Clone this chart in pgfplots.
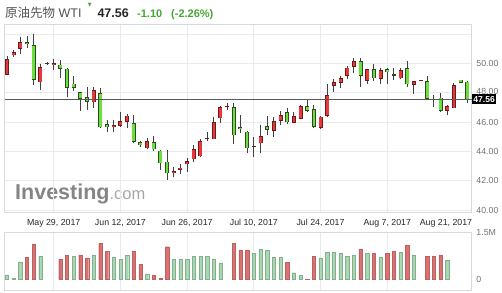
\documentclass[border=0pt]{standalone}
\usepackage{fontspec}
\setmainfont{Liberation Sans}
\newfontfamily\cjk{Noto Sans CJK JP}
\newfontfamily\dejavu{DejaVu Sans}
\usepackage{pgfplots}
\usepackage{pgfplotstable}
\pgfplotsset{compat=1.18}
\definecolor{candR}{HTML}{E8393A}
\definecolor{candRo}{HTML}{6E1A1A}
\definecolor{candG}{HTML}{6BE03C}
\definecolor{candGo}{HTML}{2E4A20}
\definecolor{volR}{HTML}{DB7272}
\definecolor{volG}{HTML}{A6D8B2}
\definecolor{gridc}{HTML}{E7EBF0}
\definecolor{bordc}{HTML}{D5DAE0}
\definecolor{upg}{HTML}{46A634}

% red candles: index open high low close
\pgfplotstableread{
i o h l c
1 49.24 50.49 49.20 50.31
2 50.56 50.90 50.44 50.78
3 51.01 51.79 50.67 51.47
6 48.72 49.97 48.21 49.74
8 49.92 50.31 49.58 50.03
14 47.35 48.42 46.98 48.19
17 45.69 46.12 45.30 45.80
18 45.75 46.67 45.69 46.05
19 46.03 46.55 45.58 46.44
22 44.21 44.89 44.16 44.69
26 42.51 42.96 42.23 42.66
27 42.75 43.14 42.46 42.89
28 43.12 43.53 42.61 43.32
29 43.46 44.44 43.30 44.16
30 43.67 44.83 43.62 44.71
31 44.83 45.30 44.71 44.91
32 44.83 46.37 44.83 45.99
33 46.26 47.10 45.96 47.01
34 47.01 47.32 46.83 47.10
38 44.32 45.00 43.64 44.37
39 44.55 45.80 43.87 45.05
41 45.39 46.37 45.00 46.08
42 46.08 46.76 45.80 46.48
44 45.96 46.71 45.92 46.42
45 46.21 47.17 46.21 47.10
48 45.62 46.40 45.55 46.37
49 46.42 48.60 46.37 47.85
50 48.48 48.92 48.08 48.72
51 48.69 49.17 48.31 48.99
52 49.17 49.85 48.92 49.71
53 49.78 50.40 49.33 50.17
55 48.81 49.62 48.58 49.60
57 48.94 49.67 48.58 49.56
60 48.99 49.67 48.92 49.56
62 48.53 48.81 47.92 48.81
63 48.81 48.88 48.80 48.86
67 46.78 47.17 46.48 47.10
68 46.94 48.69 46.94 48.53
}\redc

% green candles: index open high low close
\pgfplotstableread{
i o h l c
4 51.47 51.86 51.06 51.35
5 51.24 52.01 48.51 48.89
7 49.99 50.08 49.92 49.95
9 49.92 50.22 49.01 49.65
10 49.65 49.68 47.71 48.33
11 48.62 49.13 48.10 48.33
12 48.02 48.05 46.78 47.61
13 47.69 48.38 46.83 47.37
15 47.97 48.31 45.58 45.65
16 45.85 46.14 45.30 45.65
20 45.92 46.48 44.55 44.66
21 44.62 44.71 44.28 44.42
23 44.62 45.05 44.03 44.14
24 44.05 44.10 42.73 43.19
25 43.30 44.10 42.05 42.51
35 47.01 47.28 44.51 45.10
36 45.67 46.48 45.24 45.53
37 45.34 45.40 43.87 44.21
40 45.73 46.42 45.12 45.46
43 46.67 46.94 45.87 45.99
46 47.10 47.56 46.71 46.76
47 46.89 47.17 45.58 45.69
54 50.17 50.40 48.42 49.17
56 49.60 49.97 48.81 48.99
58 49.60 49.67 48.58 49.40
59 49.26 49.71 48.87 49.17
61 49.67 50.19 48.42 48.58
64 48.81 49.15 47.51 47.58
65 47.58 47.85 47.05 47.51
66 47.67 47.97 46.71 46.76
69 48.90 48.90 48.70 48.70
70 48.76 48.81 47.28 47.56
}\greenc

% volume (millions)
\pgfplotstableread{
i v
4 0.70
5 1.13
9 0.64
10 0.76
12 0.78
13 0.68
15 1.15
16 0.90
20 0.90
21 0.48
23 0.13
24 0.02
25 1.04
35 1.15
36 0.94
37 0.94
43 0.53
46 0.01
47 0.73
54 0.97
56 0.82
58 0.82
59 0.89
61 1.10
64 0.73
65 0.73
66 0.78
}\volr

\pgfplotstableread{
i v
1 0.14
2 0.02
3 0.56
6 0.74
11 0.74
14 0.78
17 0.71
18 0.64
19 0.76
22 0.17
26 0.65
27 0.65
28 0.64
29 0.74
30 0.74
31 0.73
32 0.65
33 0.51
38 0.82
39 0.97
40 0.94
41 0.71
42 0.71
44 0.21
45 0.12
48 0.68
49 0.87
50 0.87
51 0.84
52 0.74
53 0.77
55 0.82
57 0.71
60 0.85
62 0.78
67 0.60
}\volg

\pgfplotsset{
  wick/.style={draw=none, mark=none, forget plot,
    error bars/.cd, y dir=plus, y explicit, error mark=none,
    error bar style={line width=1bp, draw=black!75}},
  bodyo/.style={draw=none, mark=none, forget plot,
    error bars/.cd, y dir=plus, y explicit, error mark=none,
    error bar style={line width=4bp, draw=#1}},
  bodyi/.style={draw=none, mark=none, forget plot,
    error bars/.cd, y dir=plus, y explicit, error mark=none,
    error bar style={line width=2.6bp, draw=#1}},
  panel/.style={scale only axis, width=466.8bp, xmin=0.655, xmax=70.63,
    axis line style={bordc, line width=0.8bp},
    grid style={gridc, line width=0.8bp},
    major tick length=0pt, tick style={draw=none},
    yticklabel pos=right,
    tick label style={font=\fontsize{8.8bp}{10bp}\selectfont},
    yticklabel style={text=black!55, xshift=1.4bp},
    xtick={8,18,28,38,48,58}, xmajorgrids},
}

\begin{document}
\begin{tikzpicture}
\path[use as bounding box] (0,0) rectangle (502bp,293bp);

% header
\node[anchor=base west, inner sep=0, text=black!68] at (5bp,275.7bp)
  {\fontsize{12.5bp}{14bp}\selectfont{\cjk 原油先物} WTI};
\node[anchor=center, inner sep=0, text=upg] at (89.7bp,287.5bp)
  {\dejavu\fontsize{5bp}{5bp}\selectfont ▼};
\node[anchor=base west, inner sep=0, text=black!85] at (97.3bp,275.7bp)
  {\fontsize{12.5bp}{14bp}\selectfont\bfseries 47.56};
\node[anchor=base west, inner sep=0, text=upg] at (137bp,275.7bp)
  {\fontsize{11bp}{13bp}\selectfont\bfseries -1.10};
\node[anchor=base west, inner sep=0, text=upg] at (171bp,275.7bp)
  {\fontsize{11bp}{13bp}\selectfont\bfseries (-2.26\%)};

% watermark
\node[anchor=base west, inner sep=0] at (15bp,93bp)
  {\fontsize{21.5bp}{24bp}\selectfont{\bfseries\color{black!48}Investing}{\fontsize{16.5bp}{20bp}\selectfont\color{black!35}.com}};

\begin{axis}[panel, at={(4.7bp,81bp)}, anchor=south west, height=188bp,
  ymin=39.863, ymax=52.696,
  ytick={40,42,44,46,48,50,52},
  yticklabels={40.00,42.00,44.00,46.00,\raisebox{2.2bp}{48.00},50.00,{}},
  ymajorgrids,
  xticklabels={May 29{,} 2017,Jun 12{,} 2017,Jun 26{,} 2017,Jul 10{,} 2017,Jul 24{,} 2017,Aug 7{,} 2017},
  extra x ticks={66.8}, extra x tick labels={Aug 21{,} 2017},
  extra x tick style={grid=none},
  xticklabel style={text=black!85, yshift=-4bp},
  clip=false]
  % wicks
  \addplot[wick] table[x=i, y=l, y error plus expr={\thisrow{h}-\thisrow{l}}] {\redc};
  \addplot[wick] table[x=i, y=l, y error plus expr={\thisrow{h}-\thisrow{l}}] {\greenc};
  % bodies (outline)
  \addplot[bodyo=candRo] table[x=i, y expr={min(\thisrow{o},\thisrow{c})},
     y error plus expr={max(abs(\thisrow{c}-\thisrow{o}),0.07)}] {\redc};
  \addplot[bodyo=candGo] table[x=i, y expr={min(\thisrow{o},\thisrow{c})},
     y error plus expr={max(abs(\thisrow{c}-\thisrow{o}),0.07)}] {\greenc};
  % bodies (fill)
  \addplot[bodyi=candR] table[x=i, y expr={min(\thisrow{o},\thisrow{c})+0.048},
     y error plus expr={max(abs(\thisrow{c}-\thisrow{o})-0.096,0)}] {\redc};
  \addplot[bodyi=candG] table[x=i, y expr={min(\thisrow{o},\thisrow{c})+0.048},
     y error plus expr={max(abs(\thisrow{c}-\thisrow{o})-0.096,0)}] {\greenc};
  % last price line
  \addplot[black!65, line width=1bp, forget plot] coordinates {(0.655,47.56) (70.63,47.56)};
  \coordinate (pl) at (axis cs:70.63,47.56);
\end{axis}
\node[anchor=west, fill=black, text=white, inner xsep=1.6bp, inner ysep=0pt,
  minimum height=10.5bp, font=\fontsize{8.6bp}{10bp}\selectfont\bfseries] at (pl) {47.56};

\begin{axis}[panel, at={(4.7bp,3bp)}, anchor=south west, height=57.7bp,
  ymin=-0.3415, ymax=1.5,
  ytick={0,1.5}, yticklabels={0,1.5M},
  xticklabels={}]
  \addplot[ybar, bar width=3.3bp, bar shift=0pt, fill=volR, draw=volR!85!black, line width=0.4bp] table[x=i, y=v] {\volr};
  \addplot[ybar, bar width=3.3bp, bar shift=0pt, fill=volG, draw=volG!80!black, line width=0.4bp] table[x=i, y=v] {\volg};
\end{axis}
\end{tikzpicture}
\end{document}
